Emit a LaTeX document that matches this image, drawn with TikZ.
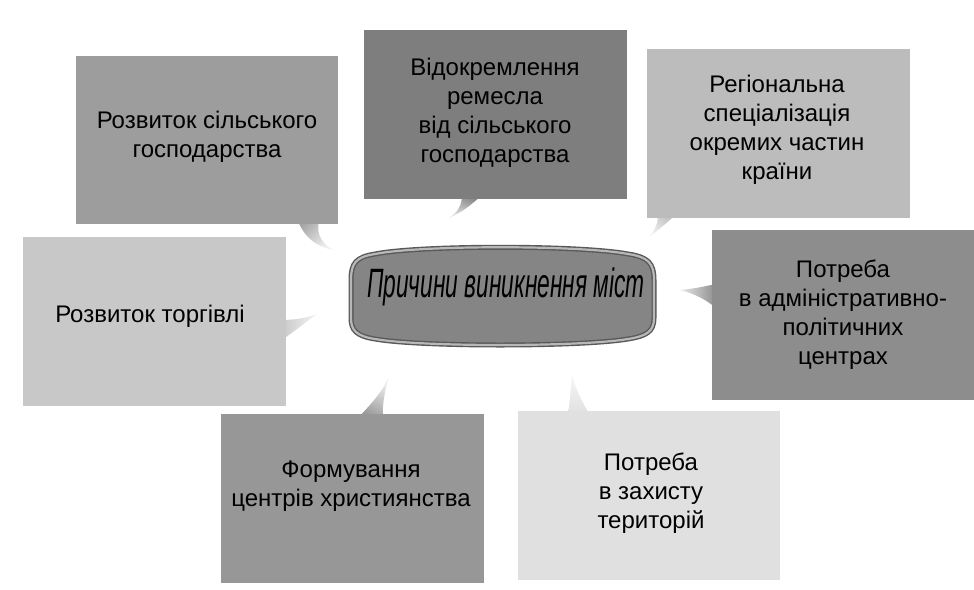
\documentclass[tikz,border=0pt]{standalone}
\usepackage{fontspec}
\setmainfont{Liberation Sans}
\usepackage{graphicx}
\definecolor{cA}{HTML}{9D9D9D}
\definecolor{cB}{HTML}{7E7E7E}
\definecolor{cC}{HTML}{BCBCBC}
\definecolor{cD}{HTML}{8D8D8D}
\definecolor{cE}{HTML}{E0E0E0}
\definecolor{cF}{HTML}{979797}
\definecolor{cG}{HTML}{C8C8C8}
\definecolor{plaque}{HTML}{858585}
\definecolor{bevel}{HTML}{B8B8B8}
\tikzset{
  boxx/.style={rectangle, inner sep=0pt, minimum width=#1},
  txt/.style={align=center, font=\fontsize{24}{29}\selectfont, text=black, inner sep=0pt},
  plaquepath/.style={},
}
\begin{document}
\begin{tikzpicture}[x=1pt,y=-1pt]
\useasboundingbox (0,0) rectangle (974,589);
\fill[white] (0,0) rectangle (974,589);
% callout tails
\shade[top color=cA, bottom color=cA!15, shading angle=45]
  (296,215) .. controls (302,236) and (315,246) .. (333,250) .. controls (318,240) and (316,232) .. (320,215) -- cycle;
\shade[top color=cB, bottom color=cB!20, shading angle=-20]
  (462,195) .. controls (462,205) and (458,212) .. (449,218) .. controls (462,212) and (470,206) .. (482,195) -- cycle;
\shade[top color=cC, bottom color=cC!20, shading angle=-40]
  (658,214) .. controls (658,224) and (655,230) .. (649,237) .. controls (658,230) and (666,224) .. (676,214) -- cycle;
\shade[top color=cD, bottom color=cD!20, shading angle=-90]
  (716,284) .. controls (702,287) and (692,289) .. (680,290) .. controls (692,293) and (704,298) .. (716,308) -- cycle;
\shade[top color=cE, bottom color=cE!30, shading angle=180]
  (568,415) .. controls (570,400) and (571,388) .. (572,375) .. controls (576,390) and (582,402) .. (590,415) -- cycle;
\shade[top color=cF, bottom color=cF!20, shading angle=150]
  (358,418) .. controls (370,405) and (380,395) .. (388,379) .. controls (385,392) and (382,404) .. (383,418) -- cycle;
\shade[top color=cG, bottom color=cG!20, shading angle=90]
  (282,320) .. controls (295,320) and (306,318) .. (317,314) .. controls (306,322) and (296,330) .. (282,340) -- cycle;
% boxes
\node[boxx=262pt, minimum height=168pt, fill=cA] (b1) at (207,140) {};
\node[boxx=263pt, minimum height=169pt, fill=cB] (b2) at (495.5,114.5) {};
\node[boxx=263pt, minimum height=169pt, fill=cC] (b3) at (778.5,133.5) {};
\node[boxx=262pt, minimum height=170pt, fill=cD] (b4) at (843,315) {};
\node[boxx=262pt, minimum height=169pt, fill=cE] (b5) at (649,495.5) {};
\node[boxx=263pt, minimum height=169pt, fill=cF] (b6) at (352.5,498.5) {};
\node[boxx=263pt, minimum height=169pt, fill=cG] (b7) at (154.5,321.5) {};
% texts
\node[txt] (t1) at (207,137) {Розвиток сільського\\господарства};
\node[txt] (t2) at (495,113) {Відокремлення\\ремесла\\від сільського\\господарства};
\node[txt] (t3) at (777,130) {Регіональна\\спеціалізація\\окремих частин\\країни};
\node[txt] (t4) at (843,315) {Потреба\\в адміністративно-\\політичних\\центрах};
\node[txt] (t5) at (651,493) {Потреба\\в захисту\\територій};
\node[txt] (t6) at (351,486) {Формування\\центрів християнства};
\node[txt] (t7) at (150,316) {Розвиток торгівлі};
% central plaque
\def\plaqueshape{
  (375,254) .. controls (420,245) and (580,245) .. (628,254)
  .. controls (648,257) and (654,263) .. (654,280)
  -- (654,318)
  .. controls (654,332) and (646,336) .. (628,339)
  .. controls (580,347) and (420,347) .. (375,339)
  .. controls (356,336) and (351,330) .. (351,318)
  -- (351,280)
  .. controls (351,263) and (356,257) .. (375,254) -- cycle}
\path[fill=plaque, draw=black!65, line width=5pt] \plaqueshape;
\path[draw=bevel, line width=2.2pt] \plaqueshape;
\node[inner sep=0pt, anchor=base] (c) at (506,297)
  {\resizebox{278pt}{\height}{\fontsize{41}{41}\selectfont\itshape Причини виникнення міст}};
\end{tikzpicture}
\end{document}
